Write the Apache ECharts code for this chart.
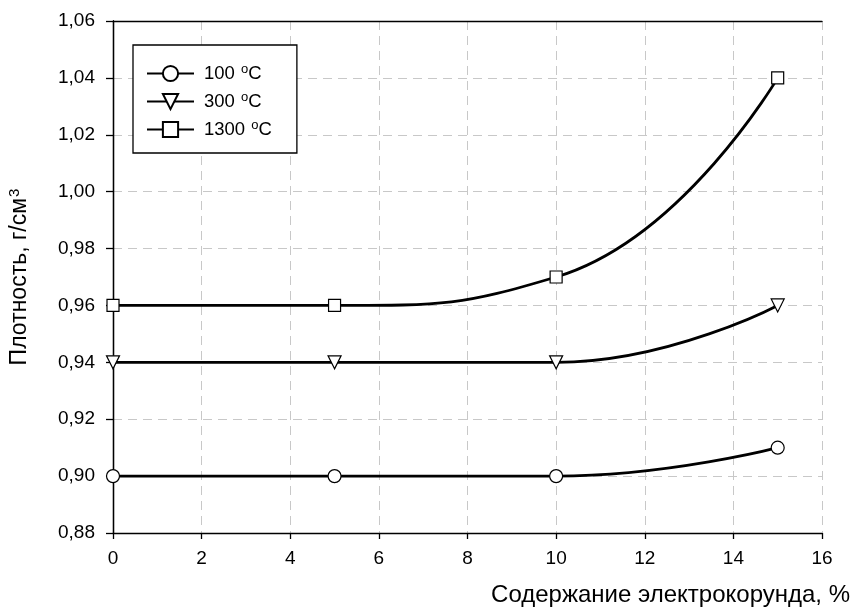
<!DOCTYPE html>
<html><head><meta charset="utf-8">
<script src="https://cdn.jsdelivr.net/npm/echarts@6/dist/echarts.min.js"></script>
<style>html,body{margin:0;padding:0;background:#fff}#c{width:854px;height:608px}</style>
</head><body><div id="c"></div>
<script>
const xValues = [0, 5, 10, 15];
const seriesNames = ['100', '300', '1300'];
const s100 = [0.90, 0.90, 0.90, 0.91];
const s300 = [0.94, 0.94, 0.94, 0.96];
const s1300 = [0.96, 0.96, 0.97, 1.04];
const symbols = ['circle', 'triangle', 'rect'];

const chart = echarts.init(document.getElementById('c'));
const font = '"Liberation Sans", Arial, sans-serif';
const data = [s100, s300, s1300];
const series = seriesNames.map((n, i) => ({
  name: n,
  type: 'line',
  smooth: 0.5,
  data: xValues.map((x, j) => [x, data[i][j]]),
  symbol: symbols[i],
  symbolSize: i === 2 ? 12 : 13,
  symbolRotate: i === 1 ? 180 : 0,
  showAllSymbol: true,
  lineStyle: { color: '#000', width: 2.8 },
  itemStyle: { color: '#fff', borderColor: '#000', borderWidth: 1.2 },
  z: 3 + i
}));
const hiddenAxis = { type: 'value', min: 0, max: 1, axisLine: { show: true, lineStyle: { color: '#000', width: 1.3 } },
  axisTick: { show: false }, axisLabel: { show: false }, splitLine: { show: false } };

chart.setOption({
  animation: false,
  textStyle: { fontFamily: font },
  grid: { left: 113, right: 32, top: 21, bottom: 75, containLabel: false, outerBoundsMode: 'none' },
  legend: {
    left: 133, top: 45, orient: 'vertical',
    borderColor: '#000', borderWidth: 1.3, backgroundColor: '#fff',
    padding: [18, 25, 14, 13], itemGap: 8,
    itemWidth: 47, itemHeight: 19,
    data: seriesNames,
    formatter: n => n + ' {s|o}C',
    textStyle: { fontSize: 18.5, color: '#000', fontFamily: font, padding: [0,0,0,5],
      rich: { s: { fontSize: 13, verticalAlign: 'top', padding: [0,0,8,1], color: '#000' } } }
  },
  xAxis: [{
    type: 'value', min: 0, max: 16, interval: 2,
    name: 'Содержание электрокорунда, %',
    nameLocation: 'end', nameGap: 0,
    nameTextStyle: { fontSize: 24, color: '#000', align: 'right', verticalAlign: 'top', padding: [50, -28, 0, 0], fontFamily: font },
    axisLine: { lineStyle: { color: '#000', width: 1.3 } },
    axisTick: { show: true, length: 6, lineStyle: { color: '#000', width: 1.3 } },
    axisLabel: { fontSize: 19, color: '#000', margin: 16, fontFamily: font },
    splitLine: { show: true, lineStyle: { color: '#c8c8c8', type: [9, 6], width: 1 } }
  }, Object.assign({ position: 'top' }, hiddenAxis)],
  yAxis: [{
    type: 'value', min: 0.88, max: 1.06, interval: 0.02,
    name: 'Плотность, г/см{s|3}',
    nameLocation: 'middle', nameGap: 80, nameRotate: 90,
    nameTextStyle: { fontSize: 23, color: '#000', fontFamily: font,
      rich: { s: { fontSize: 15, verticalAlign: 'top', padding: [0,0,11,1], color: '#000' } } },
    axisLine: { lineStyle: { color: '#000', width: 1.3 } },
    axisTick: { show: true, length: 7, lineStyle: { color: '#000', width: 1.3 } },
    axisLabel: { fontSize: 19, color: '#000', margin: 18, fontFamily: font,
      formatter: v => v.toFixed(2).replace('.', ',') },
    splitLine: { show: true, lineStyle: { color: '#c8c8c8', type: [9, 6], width: 1 } }
  }, Object.assign({ position: 'right' }, hiddenAxis)],
  series: series
});
</script></body></html>
